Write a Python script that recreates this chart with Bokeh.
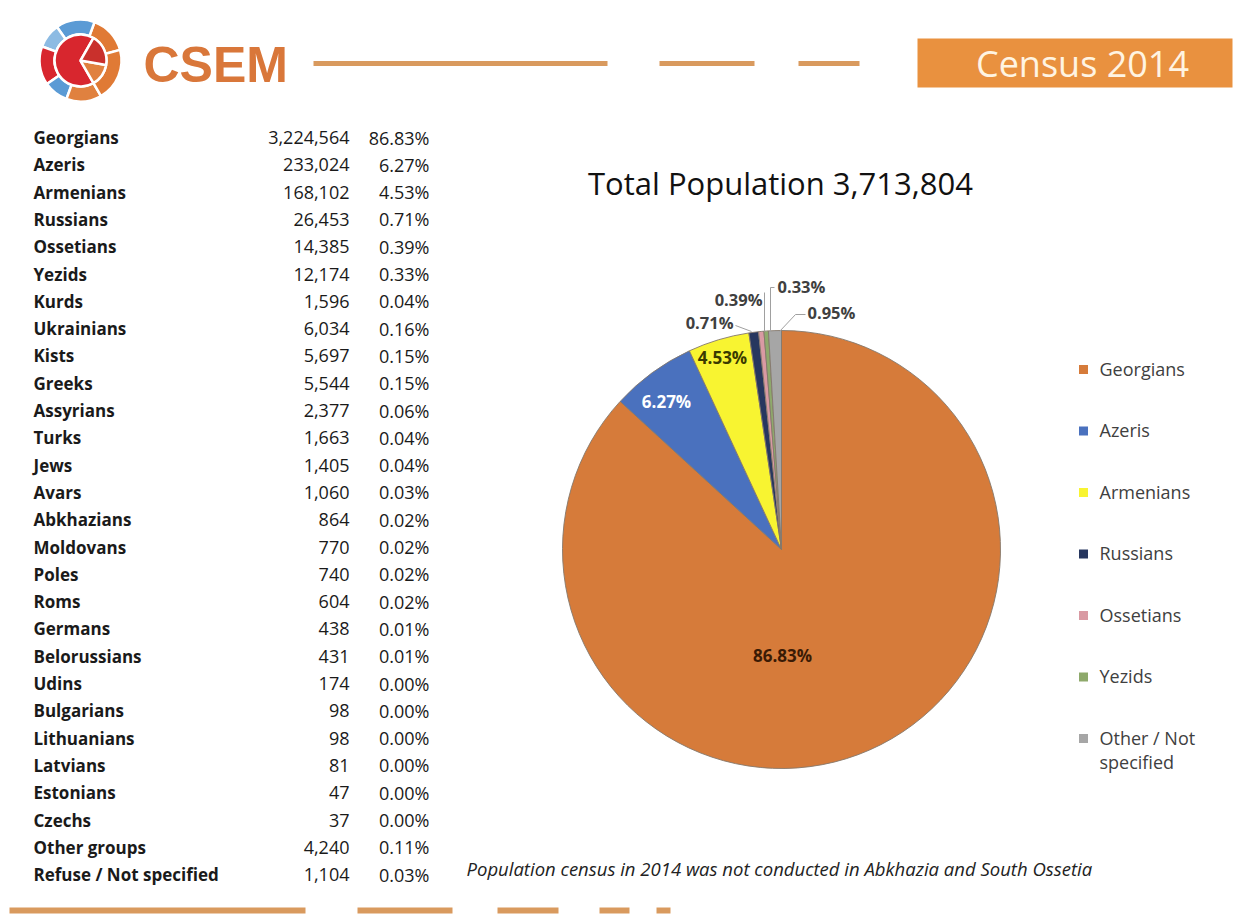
import math
from bokeh.plotting import figure
from bokeh.models import Range1d, ColumnDataSource
from bokeh.core.properties import value
from bokeh.embed import file_html
from bokeh.resources import INLINE

W, H = 1244, 916

# ---------------- data ----------------
groups = ["Georgians", "Azeris", "Armenians", "Russians", "Ossetians", "Yezids",
          "Kurds", "Ukrainians", "Kists", "Greeks", "Assyrians", "Turks", "Jews",
          "Avars", "Abkhazians", "Moldovans", "Poles", "Roms", "Germans",
          "Belorussians", "Udins", "Bulgarians", "Lithuanians", "Latvians",
          "Estonians", "Czechs", "Other groups", "Refuse / Not  specified"]
counts = [3224564, 233024, 168102, 26453, 14385, 12174, 1596, 6034, 5697, 5544,
          2377, 1663, 1405, 1060, 864, 770, 740, 604, 438, 431, 174, 98, 98, 81,
          47, 37, 4240, 1104]
shares = ["86.83%", "6.27%", "4.53%", "0.71%", "0.39%", "0.33%", "0.04%", "0.16%",
          "0.15%", "0.15%", "0.06%", "0.04%", "0.04%", "0.03%", "0.02%", "0.02%",
          "0.02%", "0.02%", "0.01%", "0.01%", "0.00%", "0.00%", "0.00%", "0.00%",
          "0.00%", "0.00%", "0.11%", "0.03%"]

pie_labels = ["Georgians", "Azeris", "Armenians", "Russians", "Ossetians",
              "Yezids", "Other / Not specified"]
pie_pct = [86.83, 6.27, 4.53, 0.71, 0.39, 0.33, 0.95]
pie_colors = ["#D67B3A", "#4A71BE", "#F8F431", "#27375F", "#D99AA3",
              "#8EA96B", "#A6A6A6"]

title_text = "Total Population 3,713,804"
badge_text = "Census 2014"
brand_text = "CSEM"
note_text = "Population census in 2014 was not conducted in Abkhazia and South Ossetia"

# ---------------- canvas ----------------
def Y(py):
    return H - py

p = figure(width=W, height=H, x_range=Range1d(0, W), y_range=Range1d(0, H),
           output_backend="svg", toolbar_location=None, min_border=0)
p.axis.visible = False
p.grid.visible = False
p.outline_line_color = None
p.background_fill_color = "white"
p.border_fill_color = "white"

FONT = value("Open Sans")
ORANGE_LINE = "#D99A5E"

# ---------------- header ----------------
# globe logo
gx, gy = 80, Y(60)
outer = [(15, 70, "#E07A35"), (70, 125, "#5B9BD5"), (125, 160, "#8DBBE3"),
         (160, 215, "#D8262E"), (215, 250, "#5B9BD5"), (250, 300, "#E0813F"),
         (300, 375, "#E07A35")]
for a0, a1, c in outer:
    p.annular_wedge(x=gx, y=gy, inner_radius=26, outer_radius=41,
                    start_angle=math.radians(a0), end_angle=math.radians(a1),
                    fill_color=c, line_color="white", line_width=2.5)
inner = [(60, 300, "#D8262E"), (300, 350, "#E0813F"), (350, 420, "#C9302C")]
for a0, a1, c in inner:
    p.wedge(x=gx, y=gy, radius=26, start_angle=math.radians(a0),
            end_angle=math.radians(a1), fill_color=c, line_color="white",
            line_width=2.5)
p.text(x=[143], y=[Y(64)], text=[brand_text], text_font=value("Liberation Sans"),
       text_font_style="bold", text_font_size="50px", text_color="#D9773A",
       text_baseline="middle", text_align="left")

# header dashes
hx0 = [313, 659, 798]
hx1 = [607, 754, 859]
p.segment(x0=hx0, y0=[Y(63)] * 3, x1=hx1, y1=[Y(63)] * 3,
          line_color=ORANGE_LINE, line_width=5)

# badge
p.quad(left=[917], right=[1232], top=[Y(38)], bottom=[Y(87)],
       fill_color="#E9913F", line_color=None)
p.text(x=[1082], y=[Y(63)], text=[badge_text], text_font=FONT,
       text_font_size="36px", text_color="#FFF4E2", text_baseline="middle",
       text_align="center")

# ---------------- table ----------------
row0, row_step = 137, 27.3
ty = [Y(row0 + i * row_step) for i in range(len(groups))]
tsrc = ColumnDataSource(dict(
    y=ty, name=groups,
    cnt=[f"{c:,}" for c in counts],
    pct=shares))
p.text(x=33, y="y", text="name", source=tsrc, text_font=FONT,
       text_font_style="bold", text_font_size="17px", text_color="#1A1A1A",
       text_baseline="middle", text_align="left")
p.text(x=349, y="y", text="cnt", source=tsrc, text_font=FONT,
       text_font_size="18px", text_color="#1A1A1A",
       text_baseline="middle", text_align="right")
p.text(x=429, y="y", text="pct", source=tsrc, text_font=FONT,
       text_font_size="18px", text_color="#1A1A1A",
       text_baseline="middle", text_align="right")

# ---------------- pie ----------------
cx, cy, R = 781, Y(549), 219
total = sum(pie_pct)
starts, ends = [], []
acc = 0.0
for v in pie_pct:
    starts.append(math.pi / 2 - 2 * math.pi * acc / total)
    acc += v
    ends.append(math.pi / 2 - 2 * math.pi * acc / total)
psrc = ColumnDataSource(dict(start=starts, end=ends, color=pie_colors,
                             label=pie_labels))
p.wedge(x=cx, y=cy, radius=R, start_angle="start", end_angle="end",
        direction="clock", fill_color="color", line_color="#85786C",
        line_width=0.9, source=psrc)

p.text(x=[780], y=[Y(182)], text=[title_text], text_font=FONT,
       text_font_size="31px", text_color="#111111", text_baseline="middle",
       text_align="center")

# in-slice labels (Georgians, Azeris, Armenians)
in_pos = [(782, 655, "#3A1A05"), (666, 401, "#FFFFFF"), (722, 357, "#3A3A00")]
for (lx, ly, lc), v in zip(in_pos, pie_pct[:3]):
    p.text(x=[lx], y=[Y(ly)], text=[f"{v:.2f}%"], text_font=FONT,
           text_font_style="bold", text_font_size="17px", text_color=lc,
           text_baseline="middle", text_align="center")

# outside labels with leaders (Russians, Ossetians, Yezids, Other)
out_pos = [(733, 322, "right"), (762, 299, "right"), (777, 286, "left"),
           (807, 312, "left")]
for (lx, ly, al), v in zip(out_pos, pie_pct[3:]):
    p.text(x=[lx], y=[Y(ly)], text=[f"{v:.2f}%"], text_font=FONT,
           text_font_style="bold", text_font_size="16.5px", text_color="#404040",
           text_baseline="middle", text_align=al)
leader_x = [[735, 751], [764, 764], [774, 770, 770], [805, 795, 779]]
leader_y = [[325, 331], [292, 331], [287, 287, 331], [314, 314, 331]]
p.multi_line(xs=leader_x, ys=[[Y(v) for v in ys] for ys in leader_y],
             line_color="#A0A0A0", line_width=1)

# legend
leg_y = [369 + i * 61.5 for i in range(len(pie_labels))]
p.scatter(x=[1083] * len(pie_labels), y=[Y(v) for v in leg_y], marker="square",
          size=9, fill_color=pie_colors, line_color=None)
leg_text = [t if t != "Other / Not specified" else "Other / Not\nspecified"
            for t in pie_labels]
p.text(x=[1099] * len(pie_labels), y=[Y(v - 13) for v in leg_y], text=leg_text,
       text_font=FONT, text_font_size="18px", text_color="#404040",
       text_baseline="top", text_align="left", text_line_height=1.02)

# footnote
p.text(x=[466], y=[Y(868)], text=[note_text], text_font=FONT,
       text_font_style="italic", text_font_size="18.5px", text_color="#222222",
       text_baseline="middle", text_align="left")

# footer bars
fx0 = [9, 357, 497, 599, 656]
fx1 = [305, 452, 558, 629, 670]
p.segment(x0=fx0, y0=[Y(910)] * 5, x1=fx1, y1=[Y(910)] * 5,
          line_color=ORANGE_LINE, line_width=6)

open("out.html", "w").write(file_html(p, INLINE))
